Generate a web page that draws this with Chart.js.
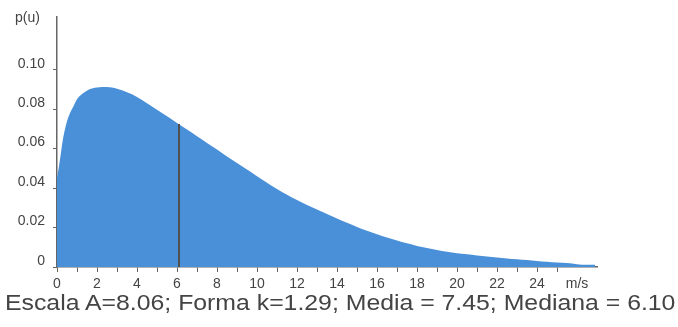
<!DOCTYPE html>
<html>
<head>
<meta charset="utf-8">
<script src="https://cdn.jsdelivr.net/npm/chart.js@4/dist/chart.umd.min.js"></script>
<style>
  body { margin: 0; background: #fff; }
  #wrap { position: relative; width: 678px; height: 327px; }
  #yLabel { position: absolute; left: 15px; top: 9px; font: 14px "Liberation Sans", Arial, sans-serif; color: #444; }
  #caption { position: absolute; left: 5px; top: 290px; font: 22px "Liberation Sans", Arial, sans-serif; color: #444; white-space: nowrap; transform-origin: 0 0; }
</style>
</head>
<body>
<div id="wrap">
  <canvas id="chartWeibull" width="678" height="327"></canvas>
  <span id="yLabel">p(u)</span>
  <div id="caption">Escala A=8.06; Forma k=1.29; Media = 7.45; Mediana = 6.10</div>
</div>
<script>
// wind speed (m/s) and density
const speeds = [0, 0.1, 0.2, 0.3, 0.45, 0.65, 0.85, 1.0, 1.3, 1.6, 2.0, 2.5, 3.0, 3.5, 4.0, 4.5, 5.0, 5.5, 6.0, 6.5,
  7.0, 7.5, 8.0, 8.5, 9.0, 9.5, 10, 10.5, 11, 11.5, 12, 12.5, 13, 13.5, 14, 14.5, 15, 15.5, 16, 16.5,
  17, 17.5, 18, 18.5, 19, 19.5, 20, 20.5, 21, 21.5, 22, 22.5, 23, 23.5, 24, 24.5, 25, 25.5, 26, 26.5, 26.9];
const density = [0.045, 0.051, 0.058, 0.065, 0.072, 0.078, 0.082, 0.085, 0.088, 0.090, 0.091, 0.0912, 0.0903, 0.0885, 0.0862, 0.0830, 0.0797, 0.0764, 0.0730, 0.0697,
  0.0663, 0.0629, 0.0595, 0.0560, 0.0527, 0.0494, 0.0460, 0.0427, 0.0395, 0.0366, 0.0339, 0.0314, 0.0291, 0.0268, 0.0246, 0.0224, 0.0203, 0.0184, 0.0166, 0.0149,
  0.0134, 0.0120, 0.0107, 0.0096, 0.0086, 0.0077, 0.0070, 0.0064, 0.0058, 0.0053, 0.0048, 0.0043, 0.0039, 0.0035, 0.0031, 0.0027, 0.0023, 0.0020, 0.0014, 0.0011, 0.0011];
const medianSpeed = 6.10;
const medianDensity = 0.0725;
const yTickMax = 0.10;

const axisFont = { family: '"Liberation Sans", Arial, sans-serif', size: 14 };

new Chart(document.getElementById('chartWeibull').getContext('2d'), {
  type: 'line',
  data: {
    datasets: [{
      data: [{ x: medianSpeed, y: 0 }, { x: medianSpeed, y: medianDensity }],
      borderColor: '#505050',
      borderWidth: 2,
      pointRadius: 0,
      fill: false,
      order: 0
    }, {
      data: speeds.map((s, i) => ({ x: s, y: density[i] })),
      borderWidth: 0,
      borderColor: 'rgba(0,0,0,0)',
      backgroundColor: '#4a90d9',
      pointRadius: 0,
      cubicInterpolationMode: 'monotone',
      fill: 'origin',
      order: 1
    }]
  },
  options: {
    responsive: false,
    animation: false,
    layout: { padding: { top: 13, right: 81, left: 0, bottom: 0 } },
    plugins: { legend: { display: false }, tooltip: { enabled: false } },
    scales: {
      x: {
        type: 'linear', min: 0, max: 27,
        border: { color: '#666', width: 1.5 },
        grid: {
          drawOnChartArea: false, tickLength: 5,
          tickColor: ctx => (ctx.tick && ctx.tick.value > 25) ? 'rgba(0,0,0,0)' : '#666'
        },
        ticks: {
          stepSize: 1, autoSkip: false, maxRotation: 0, padding: 4,
          color: '#444', font: axisFont,
          callback: v => v === 26 ? 'm/s' : (v % 2 === 0 && v <= 24 ? String(v) : '')
        },
        afterFit: scale => { scale.height = 60; }
      },
      y: {
        min: 0, max: 0.127,
        border: { color: '#666', width: 1.5 },
        grid: { drawOnChartArea: false, tickLength: 4, tickColor: '#666' },
        ticks: {
          stepSize: 0.02, padding: 8, labelOffset: -6,
          color: '#444', font: axisFont,
          callback: v => v === 0 ? '0' : v.toFixed(2)
        },
        afterBuildTicks: scale => { scale.ticks = scale.ticks.filter(t => t.value <= yTickMax + 1e-9); },
        afterFit: scale => { scale.width = 57; }
      }
    }
  }
});

// stretch caption to the reference width
const caption = document.getElementById('caption');
caption.style.transform = 'scaleX(' + (670 / caption.offsetWidth) + ')';
</script>
</body>
</html>
